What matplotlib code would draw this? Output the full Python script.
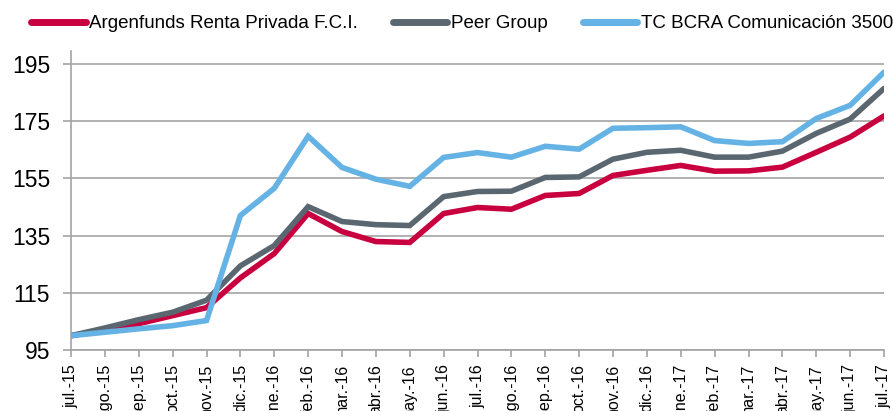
import matplotlib
matplotlib.use("Agg")
import matplotlib.pyplot as plt

plt.rcParams['font.family'] = ['Liberation Sans', 'DejaVu Sans']

months = ['jul.-15', 'ago.-15', 'sep.-15', 'oct.-15', 'nov.-15', 'dic.-15',
          'ene.-16', 'feb.-16', 'mar.-16', 'abr.-16', 'may.-16', 'jun.-16',
          'jul.-16', 'ago.-16', 'sep.-16', 'oct.-16', 'nov.-16', 'dic.-16',
          'ene.-17', 'feb.-17', 'mar.-17', 'abr.-17', 'may.-17', 'jun.-17',
          'jul.-17']

argenfunds = [100.0, 102.0, 104.2, 107.0, 109.8, 120.2, 128.7, 142.7, 136.4,
              132.9, 132.6, 142.7, 144.8, 144.2, 149.0, 149.7, 156.0, 157.8,
              159.5, 157.5, 157.6, 158.9, 164.1, 169.4, 176.8]
peer_group = [100.0, 102.7, 105.6, 108.2, 112.4, 124.4, 131.5, 145.1, 139.9,
              138.8, 138.5, 148.6, 150.4, 150.5, 155.3, 155.5, 161.7, 164.1,
              164.8, 162.4, 162.4, 164.5, 170.7, 175.7, 186.4]
tc_bcra = [100.0, 101.2, 102.4, 103.5, 105.3, 142.0, 151.5, 169.7, 158.8,
           154.7, 152.2, 162.3, 164.0, 162.4, 166.2, 165.2, 172.5, 172.7,
           173.0, 168.2, 167.2, 167.8, 175.9, 180.5, 192.1]

yticks = [95, 115, 135, 155, 175, 195]

series = [
    ('Argenfunds Renta Privada F.C.I.', argenfunds, '#C9003F'),
    ('Peer Group', peer_group, '#5B6770'),
    ('TC BCRA Comunicación 3500', tc_bcra, '#65B2E5'),
]

grid_col = '#A3A3A3'

fig = plt.figure(figsize=(8.93, 4.11), dpi=100)
ax = fig.add_axes([71 / 893, 1 - 350 / 411, (884 - 71) / 893, 299 / 411])

x = list(range(len(months)))
for label, vals, col in series:
    ax.plot(x, vals, color=col, lw=4.0, label=label,
            solid_joinstyle='miter', solid_capstyle='round')

ax.set_xlim(0, len(months) - 1)
ax.set_ylim(95, 199.5)
ax.set_yticks(yticks)
ax.set_yticklabels([str(v) for v in yticks], fontsize=16.5)
ax.set_xticks(x)
ax.set_xticklabels(months, rotation=90, fontsize=11.5, va='top', ha='center')

ax.yaxis.grid(True, color=grid_col, lw=1.2)
ax.set_axisbelow(True)
for s in ['top', 'right']:
    ax.spines[s].set_visible(False)
for s in ['left', 'bottom']:
    ax.spines[s].set_color(grid_col)
    ax.spines[s].set_linewidth(1.2)
ax.tick_params(axis='y', length=6, width=1.2, color=grid_col, pad=9)
ax.tick_params(axis='x', length=5, width=1.2, color=grid_col, pad=5)

leg = fig.legend(loc='upper left', bbox_to_anchor=(20 / 893, 1 - 4 / 411), ncol=3,
                 frameon=False, fontsize=13.5, handlelength=2.9, handletextpad=0.2,
                 columnspacing=1.85, borderaxespad=0.2)
for h in leg.legend_handles:
    h.set_linewidth(5)

fig.savefig('out.png', dpi=100)
